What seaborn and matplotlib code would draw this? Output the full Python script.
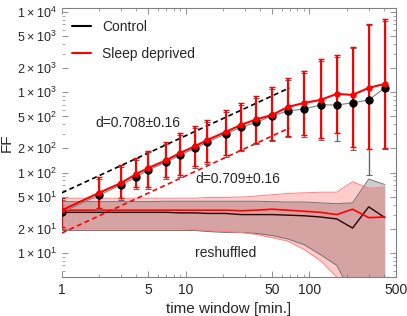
import matplotlib
matplotlib.use("Agg")
import matplotlib.pyplot as plt
import seaborn as sns
import numpy as np
from matplotlib.lines import Line2D
from matplotlib.ticker import FixedLocator, NullFormatter

# time windows [min.]
tw = [1, 2, 3, 4, 5, 7, 9, 12, 15, 21, 28, 37, 50, 67, 91, 123, 166, 223, 301, 406]

# Fano factor, control
ctrl = [32, 52.6, 70, 88, 108, 135, 165, 202, 240, 303, 365, 421, 507, 585, 620, 695, 695, 736, 802, 1132]
ctrl_hi = [46, 84, 118, 145, 178, 228, 296, 362, 430, 575, 700, 855, 1100, 1420, 1750, 2450, 2750, 3500, 6800, 7800]
ctrl_lo = [20, 34, 45, 62, 63, 84, 89, 115, 128, 158, 183, 225, 245, 275, 280, 255, 250, 190, 93, 195]

# Fano factor, sleep deprived
sd = [34, 56, 74, 96, 114, 143, 175, 214, 255, 320, 392, 458, 521, 656, 736, 802, 953, 925, 1132, 1268]
sd_hi = [48, 88, 124, 152, 186, 240, 311, 380, 452, 603, 736, 899, 1164, 1507, 1842, 2600, 2917, 3665, 7100, 8180]
sd_lo = [21, 36, 48, 66, 66, 88, 93, 121, 135, 165, 191, 234, 255, 286, 294, 270, 311, 208, 197, 202]

# power-law fits (end points)
fit_x = [1, 69]
ctrl_fit = [56, 1133]
sd_fit = [17.7, 359]

# reshuffled surrogates
ctrl_sh = [32, 32, 32, 32, 32, 32, 31.5, 31.5, 31, 31, 30, 30, 30, 29.5, 29, 28, 26.5, 20.4, 37.5, 27.5]
ctrl_sh_hi = [43.5, 43.5, 43.5, 43.5, 43.5, 44, 44, 44, 44, 44, 44, 44, 43.5, 43, 43, 42, 41, 42, 83, 71]
ctrl_sh_lo = [19, 19, 19, 19, 19, 19, 19, 19, 18.5, 18, 18, 17.5, 16.5, 14.9, 12.6, 9.5, 7.0, 3, 3, 3]
sd_sh = [34, 34, 34, 34, 34, 34, 34, 34, 34, 34, 33.5, 34, 35, 34, 33, 32, 30, 35, 27.5, 28]
sd_sh_hi = [48, 48, 48, 48, 48, 48, 48, 48, 49, 49, 49.6, 51, 53, 55, 56, 57, 57, 77, 64, 66]
sd_sh_lo = [20, 20, 20, 20, 20, 20, 20, 19.5, 19, 18.5, 18, 17, 15.5, 14, 11, 8, 5, 2, 2, 2]

sns.set_style("ticks")
plt.rcParams["font.family"] = ["Liberation Sans", "DejaVu Sans"]
plt.rcParams["mathtext.fontset"] = "custom"
plt.rcParams["mathtext.rm"] = "Liberation Sans"
plt.rcParams["mathtext.default"] = "regular"

fig = plt.figure(figsize=(4.07, 3.16), dpi=100)
ax = fig.add_axes([0.152, 0.123, 0.821, 0.852])

# reshuffled bands
ax.fill_between(tw, ctrl_sh_lo, ctrl_sh_hi, color="0.5", alpha=0.4, lw=0, zorder=1)
ax.fill_between(tw, sd_sh_lo, sd_sh_hi, color="red", alpha=0.2, lw=0, zorder=1)
ax.plot(tw, ctrl_sh_hi, color="0.45", lw=0.7, zorder=2)
ax.plot(tw, ctrl_sh_lo, color="0.45", lw=0.7, zorder=2)
ax.plot(tw, sd_sh_hi, color="#ff8080", lw=0.7, zorder=2)
ax.plot(tw, sd_sh_lo, color="#ff8080", lw=0.7, zorder=2)
sns.lineplot(x=tw, y=ctrl_sh, color="#2a0000", lw=1.0, ax=ax, zorder=3)
sns.lineplot(x=tw, y=sd_sh, color="red", lw=1.2, ax=ax, zorder=3)

# fits
ax.plot(fit_x, ctrl_fit, color="black", ls=(0, (3, 2)), lw=1.2, zorder=4)
ax.plot(fit_x, sd_fit, color="red", ls=(0, (3, 2)), lw=1.2, zorder=4)

# error bars
c = np.array(ctrl)
s = np.array(sd)
ax.errorbar(tw, c, yerr=[c - np.array(ctrl_lo), np.array(ctrl_hi) - c], fmt="none",
            ecolor="0.4", elinewidth=1.0, capsize=2, capthick=0.8, zorder=5)
ax.errorbar(tw, s, yerr=[s - np.array(sd_lo), np.array(sd_hi) - s], fmt="none",
            ecolor="red", elinewidth=1.5, capsize=2, capthick=1.0, zorder=6)

# means
sns.lineplot(x=tw, y=ctrl, color="0.5", lw=0.8, ax=ax, zorder=7)
ax.plot(tw, ctrl, "o", color="black", ms=5, zorder=7)
sns.lineplot(x=tw, y=sd, color="red", lw=1.5, marker="o", ms=3.8, mec="red",
             ax=ax, zorder=8)

ax.set_xscale("log")
ax.set_yscale("log")
ax.set_xlim(1, 500)
ax.set_ylim(5, 11200)

ax.xaxis.set_major_locator(FixedLocator([1, 5, 10, 50, 100, 500]))
ax.set_xticklabels(["1", "5", "10", "50", "100", "500"])
ax.xaxis.set_minor_locator(FixedLocator([2, 3, 4, 6, 7, 8, 9, 20, 30, 40, 60, 70, 80, 90, 200, 300, 400]))
ax.xaxis.set_minor_formatter(NullFormatter())

yt = [10, 20, 50, 100, 200, 500, 1000, 2000, 5000, 10000]
ylab = [r"$1\times10^{1}$", r"$2\times10^{1}$", r"$5\times10^{1}$",
        r"$1\times10^{2}$", r"$2\times10^{2}$", r"$5\times10^{2}$",
        r"$1\times10^{3}$", r"$2\times10^{3}$", r"$5\times10^{3}$",
        r"$1\times10^{4}$"]
ax.yaxis.set_major_locator(FixedLocator(yt))
ax.set_yticklabels(ylab)
ax.yaxis.set_minor_locator(FixedLocator([6, 7, 8, 9, 30, 40, 60, 70, 80, 90, 300, 400, 600, 700, 800, 900,
                                         3000, 4000, 6000, 7000, 8000, 9000]))
ax.yaxis.set_minor_formatter(NullFormatter())

ax.tick_params(which="both", direction="in", top=True, right=True, color="0.5",
               labelsize=10, pad=4)
ax.tick_params(which="major", length=4, width=0.6)
ax.tick_params(which="minor", length=2, width=0.5)
ax.tick_params(axis="y", labelsize=9)
for side in ["top", "right", "bottom"]:
    ax.spines[side].set_color("0.5")
    ax.spines[side].set_linewidth(0.8)
ax.spines["left"].set_visible(False)

ax.set_xlabel("time window [min.]", fontsize=11)
ax.set_ylabel("FF", fontsize=11, labelpad=2)

ax.text(1.85, 415, "d=0.708\u00b10.16", fontsize=10, va="center", ha="left")
ax.text(12, 83, "d=0.709\u00b10.16", fontsize=10, va="center", ha="left")
ax.text(12, 10, "reshuffled", fontsize=10, va="center", ha="left")

handles = [Line2D([], [], color="black", lw=1.5), Line2D([], [], color="red", lw=1.5)]
ax.legend(handles, ["Control", "Sleep deprived"], loc="upper left", frameon=False,
          fontsize=10, handlelength=1.4, labelspacing=0.9, borderaxespad=0.3,
          bbox_to_anchor=(0.0, 0.99))

fig.savefig("out.png", dpi=100)
